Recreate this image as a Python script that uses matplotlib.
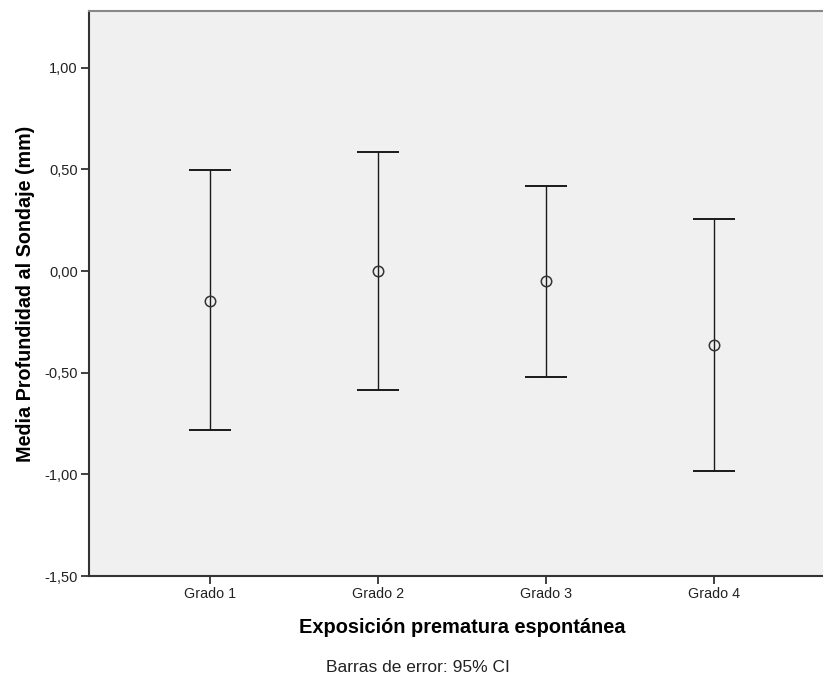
import matplotlib
matplotlib.use("Agg")
import matplotlib.pyplot as plt
import numpy as np

plt.rcParams['font.family'] = ['Liberation Sans', 'DejaVu Sans']

categories = ["Grado 1", "Grado 2", "Grado 3", "Grado 4"]
means = [-0.145, 0.0, -0.051, -0.365]
ci_upper = [0.495, 0.584, 0.416, 0.256]
ci_lower = [-0.783, -0.586, -0.519, -0.986]
y_ticks = [-1.5, -1.0, -0.5, 0.0, 0.5, 1.0]

W, H = 823, 681
fig = plt.figure(figsize=(W / 100, H / 100), dpi=100)
ax = fig.add_axes([89 / W, (H - 576) / H, 1 - 89 / W, (576 - 11) / H])
ax.set_facecolor("#f0f0f0")

x = np.arange(len(categories))
m = np.array(means)
err = [m - np.array(ci_lower), np.array(ci_upper) - m]
_, caps, bars = ax.errorbar(x, m, yerr=err, fmt="none", ecolor="#1a1a1a",
                            elinewidth=1.0, capsize=15, capthick=1.4, zorder=2)
for c in caps:
    c.set_color("#606060")
ax.plot(x, m, "o", ms=7.5, mfc="none", mec="#333333", mew=1.1, zorder=3)

ax.set_xlim(-0.72, 3.65)
ax.set_ylim(-1.5, 1.279)
ax.set_xticks(x)
ax.set_xticklabels(categories, fontsize=10.3, color="#222222")
ax.set_yticks(y_ticks)
ax.set_yticklabels([f"{v:.2f}".replace(".", ",") for v in y_ticks],
                   fontsize=10.5, color="#222222")
ax.tick_params(axis="both", direction="out", length=6, width=1.3,
               color="#333333", pad=2)

for side in ["left", "bottom"]:
    ax.spines[side].set_color("#333333")
    ax.spines[side].set_linewidth(1.5)
ax.spines["top"].set_color("#888888")
ax.spines["top"].set_linewidth(1.5)
ax.spines["right"].set_visible(False)

ax.set_ylabel("Media Profundidad al Sondaje (mm)", fontsize=14.2,
              fontweight="bold", labelpad=7)
ax.set_xlabel("Exposición prematura espontánea", fontsize=14.4,
              fontweight="bold", labelpad=12)
ax.xaxis.label.set_x((462 - 89) / (W - 89))

fig.text(418 / W, 1 - 668 / H, "Barras de error: 95% CI", fontsize=12.5,
         ha="center", va="center", color="#222222")

fig.savefig("out.png", dpi=100)
